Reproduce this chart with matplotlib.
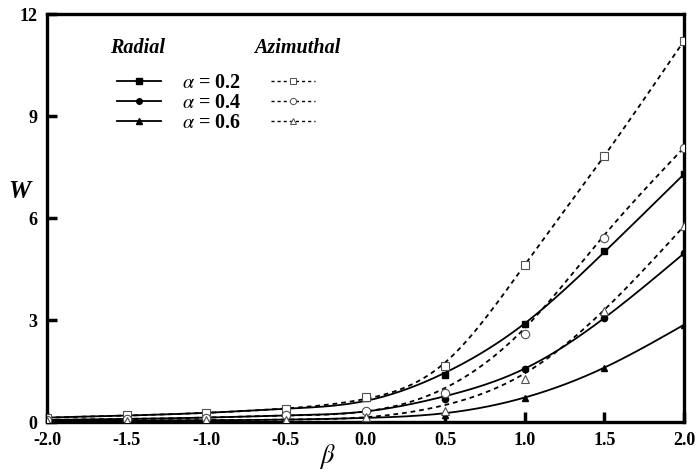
import numpy as np
import matplotlib
matplotlib.use("Agg")
import matplotlib.pyplot as plt

# ---------------- data ----------------
beta = [-2.0, -1.5, -1.0, -0.5, 0.0, 0.5, 1.0, 1.5, 2.0]

# marker values (numerical results)
rad_02 = [0.13, 0.20, 0.27, 0.37, 0.70, 1.38, 2.88, 5.03, 7.29]
azi_02 = [0.13, 0.20, 0.27, 0.38, 0.75, 1.65, 4.62, 7.83, 11.21]
rad_04 = [0.06, 0.09, 0.13, 0.20, 0.33, 0.69, 1.57, 3.06, 4.96]
azi_04 = [0.06, 0.09, 0.13, 0.20, 0.33, 0.84, 2.58, 5.41, 8.07]
rad_06 = [0.03, 0.04, 0.05, 0.07, 0.16, 0.22, 0.72, 1.60, 2.86]
azi_06 = [0.03, 0.04, 0.05, 0.07, 0.16, 0.33, 1.26, 3.26, 5.76]

# curve values (analytical curves)
rad_02_fit = [0.13, 0.19, 0.27, 0.39, 0.62, 1.45, 2.90, 5.00, 7.29]
azi_02_fit = [0.13, 0.19, 0.27, 0.40, 0.68, 1.75, 4.62, 7.83, 11.21]
rad_04_fit = [0.06, 0.09, 0.13, 0.19, 0.31, 0.76, 1.57, 3.06, 4.96]
azi_04_fit = [0.06, 0.09, 0.13, 0.19, 0.31, 1.00, 2.76, 5.50, 8.07]
rad_06_fit = [0.03, 0.04, 0.05, 0.07, 0.12, 0.26, 0.72, 1.60, 2.86]
azi_06_fit = [0.03, 0.04, 0.05, 0.07, 0.14, 0.50, 1.43, 3.30, 5.76]

alpha_labels = ["0.2", "0.4", "0.6"]
x_ticks = [-2.0, -1.5, -1.0, -0.5, 0.0, 0.5, 1.0, 1.5, 2.0]
y_ticks = [0, 3, 6, 9, 12]


def smooth(x, y, n=400):
    """natural cubic spline through (x, y) for drawing the curves"""
    x = np.asarray(x, float)
    y = np.asarray(y, float)
    m = len(x)
    h = np.diff(x)
    A = np.zeros((m, m))
    r = np.zeros(m)
    A[0, 0] = A[-1, -1] = 1
    for i in range(1, m - 1):
        A[i, i - 1] = h[i - 1]
        A[i, i] = 2 * (h[i - 1] + h[i])
        A[i, i + 1] = h[i]
        r[i] = 6 * ((y[i + 1] - y[i]) / h[i] - (y[i] - y[i - 1]) / h[i - 1])
    M = np.linalg.solve(A, r)
    xs = np.linspace(x[0], x[-1], n)
    idx = np.clip(np.searchsorted(x, xs) - 1, 0, m - 2)
    x0, x1 = x[idx], x[idx + 1]
    hh = x1 - x0
    t0, t1 = x1 - xs, xs - x0
    ys = (M[idx] * t0 ** 3 / (6 * hh) + M[idx + 1] * t1 ** 3 / (6 * hh)
          + (y[idx] / hh - M[idx] * hh / 6) * t0
          + (y[idx + 1] / hh - M[idx + 1] * hh / 6) * t1)
    return xs, ys


serif = "Liberation Serif"
plt.rcParams["font.family"] = serif
plt.rcParams["mathtext.fontset"] = "stix"

fig = plt.figure(figsize=(6.97, 4.73), dpi=100)
ax = fig.add_axes([47 / 697, 1 - 422 / 473, (684 - 47) / 697, (422 - 14) / 473])

lw = 1.3
dash = (2.6, 2.2)
gray = "#505050"

rad_series = [(rad_02, rad_02_fit, "s"), (rad_04, rad_04_fit, "o"), (rad_06, rad_06_fit, "^")]
azi_series = [(azi_02, azi_02_fit, "s"), (azi_04, azi_04_fit, "o"), (azi_06, azi_06_fit, "^")]

rad_handles = []
azi_handles = []
for (vals, fit, mk), lab in zip(rad_series, alpha_labels):
    xs, ys = smooth(beta, fit)
    ax.plot(xs, ys, color="black", lw=lw, zorder=2)
    ax.plot(beta, vals, linestyle="none", marker=mk, color="black", ms=4.5, zorder=3)
    h, = ax.plot([], [], color="black", lw=lw, marker=mk, ms=4.0)
    rad_handles.append(h)
for (vals, fit, mk), lab in zip(azi_series, alpha_labels):
    xs, ys = smooth(beta, fit)
    ax.plot(xs, ys, color="black", lw=lw, dashes=dash, zorder=2)
    ax.plot(beta, vals, linestyle="none", marker=mk, mfc="white", mec=gray,
            mew=0.8, color=gray, ms=6, zorder=4)
    h, = ax.plot([], [], color="black", lw=1.0, dashes=(2.2, 2.2), marker=mk,
                 mfc="white", mec=gray, mew=0.7, ms=4.5)
    azi_handles.append(h)

ax.set_xlim(-2.0, 2.0)
ax.set_ylim(0, 12)
ax.set_xticks(x_ticks)
ax.set_xticklabels([f"{v:.1f}" for v in x_ticks])
ax.set_yticks(y_ticks)
ax.set_yticklabels([str(v) for v in y_ticks])
ax.tick_params(direction="in", length=7, width=2.5, labelsize=13, pad=7,
               top=False, right=False)
for lbl in ax.get_xticklabels() + ax.get_yticklabels():
    lbl.set_fontweight("bold")
for sp in ax.spines.values():
    sp.set_linewidth(2.4)

fig.text(19 / 697, 1 - 191 / 473, "W", fontsize=18, fontweight="bold",
         fontstyle="italic", ha="center", va="center")
fig.text(327 / 697, 1 - 456 / 473, r"$\beta$", fontsize=19,
         ha="center", va="center")

# legend
handles = rad_handles + azi_handles
labels = [r"$\alpha$ = " + a for a in alpha_labels] + ["", "", ""]
leg = ax.legend(handles, labels, ncol=2, frameon=False, loc="upper left",
                bbox_to_anchor=(117 / 697, 1 - 73 / 473), bbox_transform=fig.transFigure,
                borderpad=0, borderaxespad=0, handlelength=2.2, handletextpad=1.05,
                columnspacing=1.45, labelspacing=0.0,
                prop={"family": serif, "weight": "bold", "size": 14.5})
fig.text(138 / 697, 1 - 48 / 473, "Radial", fontsize=14.5, fontweight="bold",
         fontstyle="italic", ha="center", va="center")
fig.text(297 / 697, 1 - 48 / 473, "Azimuthal", fontsize=14.5, fontweight="bold",
         fontstyle="italic", ha="center", va="center")

fig.savefig("out.png", dpi=100)
